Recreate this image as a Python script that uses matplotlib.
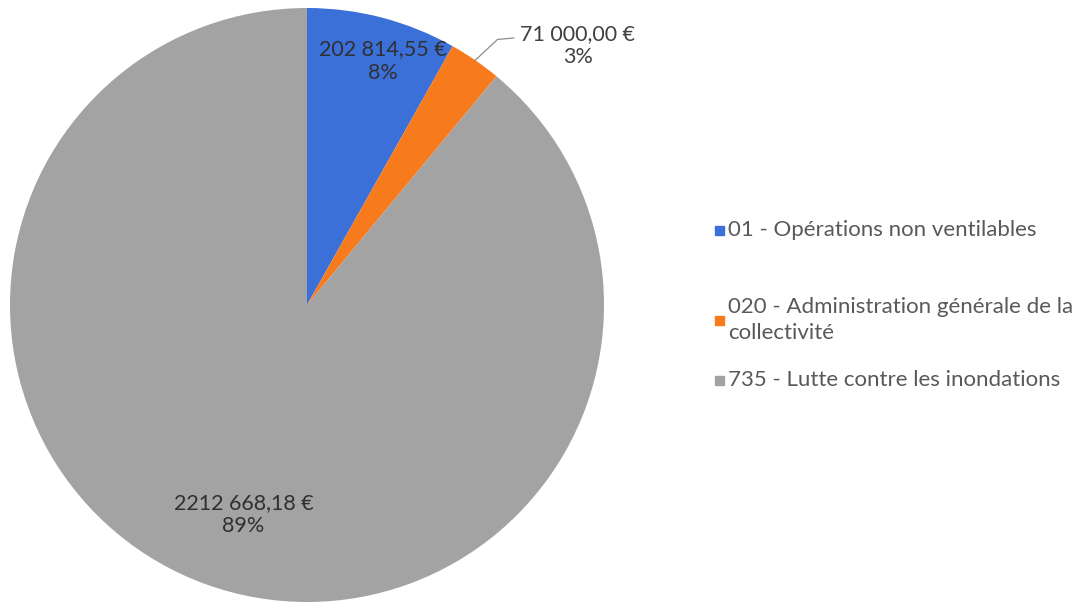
import numpy as np
import matplotlib.pyplot as plt
from matplotlib.patches import Rectangle

plt.rcParams['font.family'] = ['Lato', 'DejaVu Sans']

# donnees
categories = ['01 - Opérations non ventilables',
              '020 - Administration générale de la\ncollectivité',
              '735 - Lutte contre les inondations']
montants = [202814.55, 71000.00, 2212668.18]
etiquettes = ['202 814,55 €', '71 000,00 €', '2212 668,18 €']
couleurs = ['#3b70d8', '#f77b1c', '#a3a3a3']

fig = plt.figure(figsize=(10.86, 6.05), dpi=100)
R = 297
ax = fig.add_axes([10 / 1086, 3 / 605, 2 * R / 1086, 2 * R / 605])
wedges, _ = ax.pie(montants, colors=couleurs, startangle=90, counterclock=False,
                   radius=1, wedgeprops=dict(linewidth=0))
ax.set_xlim(-1, 1)
ax.set_ylim(-1, 1)
ax.set_aspect('equal')
ax.axis('off')

total = sum(montants)
rayons = [0.85, None, 0.75]
for i, w in enumerate(wedges):
    ang = np.deg2rad((w.theta1 + w.theta2) / 2)
    pct = '%d%%' % round(100 * montants[i] / total)
    txt = etiquettes[i] + '\n' + pct
    if rayons[i] is None:
        # etiquette exterieure avec ligne de rappel
        x0, y0 = np.cos(ang), np.sin(ang)
        ax.plot([x0, x0 + 0.075, x0 + 0.13], [y0, y0 + 0.07, y0 + 0.075],
                color='#8c8c8c', lw=0.9, clip_on=False)
        ax.text(x0 + 0.345, y0 + 0.05, txt, ha='center', va='center',
                fontsize=15.5, color='#404040', linespacing=1.22)
    else:
        r = rayons[i]
        ax.text(r * np.cos(ang) + 0.04, r * np.sin(ang), txt, ha='center',
                va='center', fontsize=15.5, color='#303030', linespacing=1.22)

# legende
leg_y = [230, 320, 380]
for c, lab, y in zip(couleurs, categories, leg_y):
    yf = 1 - y / 605
    fig.patches.append(Rectangle((715 / 1086, yf - 4.5 / 605), 9 / 1086, 9 / 605,
                                 transform=fig.transFigure, color=c))
    fig.text(728 / 1086, yf, lab, ha='left', va='center', fontsize=16,
             color='#595959', linespacing=1.35)

fig.savefig('out.png', dpi=100)
